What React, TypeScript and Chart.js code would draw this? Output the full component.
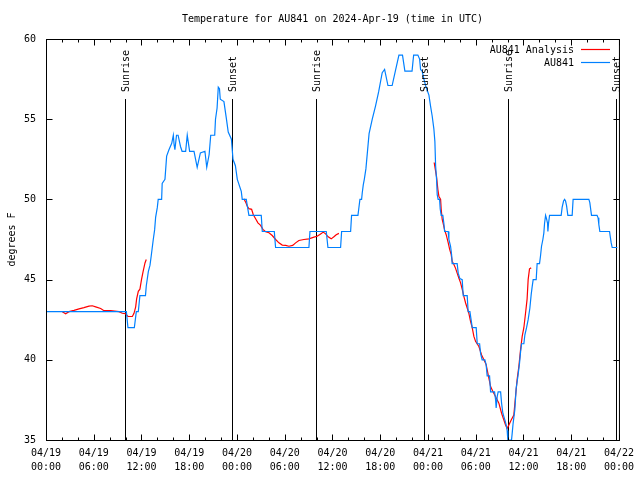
import React, { useEffect, useRef } from 'react';
import { Chart, registerables } from 'chart.js';

Chart.register(...registerables);

// Hours since 2024-04-19 00:00 UTC, temperature in degrees F
const observedTemps: [number, number][] = [
  [0, 43], [10.1, 43], [10.3, 42], [11.1, 42], [11.35, 43], [11.6, 43], [11.8, 44], [12.5, 44],
  [12.6, 44.6], [12.86, 45.5], [13.07, 45.9], [13.23, 46.5], [13.48, 47.5], [13.65, 48.1], [13.78, 48.9],
  [13.99, 49.5], [14.1, 50], [14.53, 50], [14.6, 51], [14.95, 51.25], [15.16, 52.7], [15.45, 53.1],
  [15.8, 53.5], [16.0, 54], [16.1, 53.4], [16.2, 53.1], [16.4, 54], [16.6, 54], [16.9, 53.3], [17.1, 53],
  [17.55, 53], [17.75, 54], [18.05, 53], [18.6, 53], [19.0, 52], [19.4, 52.9], [19.97, 53], [20.2, 52],
  [20.5, 52.8], [20.7, 54], [21.2, 54], [21.3, 55], [21.5, 55.7], [21.65, 57], [21.8, 56.9], [21.9, 56.25],
  [22.36, 56.1], [22.65, 55.1], [22.9, 54.2], [23.3, 53.75], [23.5, 52.5], [23.8, 52.1], [24.04, 51.25],
  [24.54, 50.5], [24.66, 50], [25.17, 50], [25.3, 49.6], [25.5, 49], [27.05, 49], [27.18, 48], [28.69, 48],
  [28.85, 47], [33.04, 47], [33.17, 48], [35.22, 48], [35.43, 47], [37.02, 47], [37.15, 48], [38.28, 48],
  [38.4, 49], [39.2, 49], [39.3, 49.4], [39.45, 50], [39.66, 50], [39.74, 50.4], [39.87, 50.9], [40.0, 51.25],
  [40.2, 51.9], [40.6, 54.1], [41.0, 55], [41.4, 55.8], [41.8, 56.7], [42.25, 57.9], [42.55, 58.1],
  [42.97, 57.1], [43.5, 57.1], [43.9, 58], [44.35, 59], [44.8, 59], [45.1, 58], [46.0, 58], [46.2, 59],
  [46.73, 59], [46.95, 58.75], [47.07, 58.1], [47.27, 58], [47.49, 57.5], [47.7, 57.1], [47.9, 56.8],
  [48.12, 56.5], [48.33, 55.8], [48.53, 55.2], [48.74, 54.4], [48.87, 53.6], [48.96, 52.1], [49.08, 51.25],
  [49.16, 50.3], [49.28, 50], [49.46, 50], [49.54, 49.4], [49.66, 49], [49.87, 49], [50.0, 48.5], [50.09, 48],
  [50.54, 48], [50.63, 47.5], [50.84, 47.08], [50.97, 46.56], [51.04, 46], [51.67, 46], [51.8, 45.4],
  [52.01, 45.06], [52.3, 45], [52.43, 44], [52.93, 44], [53.05, 43], [53.27, 43], [53.48, 42.3], [53.56, 42],
  [54.06, 42], [54.19, 41], [54.49, 41], [54.61, 40.4], [54.81, 40], [55.15, 40], [55.31, 39.7], [55.44, 39],
  [55.74, 39], [55.87, 38], [56.37, 38], [56.5, 37.5], [56.57, 37], [56.7, 37.7], [56.82, 38], [57.13, 38],
  [57.25, 37.3], [57.41, 36.67], [57.66, 36.25], [57.83, 35.94], [57.95, 35.6], [58.04, 35], [58.5, 35],
  [58.58, 35.4], [58.7, 36.04], [58.92, 36.9], [59.08, 38.2], [59.3, 38.96], [59.51, 39.8], [59.64, 40.5],
  [59.76, 41], [60.05, 41], [60.18, 41.56], [60.39, 42], [60.59, 42.5], [60.8, 43.2], [60.97, 44.06],
  [61.1, 44.58], [61.22, 45], [61.6, 45], [61.72, 46], [62.02, 46], [62.15, 46.5], [62.27, 47.08],
  [62.44, 47.5], [62.56, 47.9], [62.65, 48.5], [62.78, 49], [62.9, 48.8], [63.03, 48.5], [63.07, 48],
  [63.15, 48.5], [63.28, 49], [64.74, 49], [64.86, 49.5], [65.04, 49.9], [65.17, 50], [65.29, 49.9],
  [65.42, 49.6], [65.58, 49], [66.12, 49], [66.24, 50], [68.22, 50], [68.34, 49.8], [68.55, 49], [69.25, 49],
  [69.38, 48.85], [69.47, 48.44], [69.6, 48], [70.82, 48], [70.9, 47.7], [71.02, 47.3], [71.15, 47], [71.8, 47],
];

const analysisMorning19: [number, number][] = [
  [2.05, 43.0], [2.47, 42.87], [2.89, 43.0], [3.52, 43.08], [4.15, 43.17], [4.77, 43.25], [5.4, 43.35],
  [5.82, 43.37], [6.24, 43.3], [6.87, 43.2], [7.29, 43.06], [8.12, 43.06], [9.17, 43.0], [9.59, 42.9],
  [10.0, 42.87], [10.3, 42.7], [10.85, 42.7], [11.06, 42.9], [11.27, 43.3], [11.39, 43.8], [11.6, 44.27],
  [11.8, 44.4], [12.0, 45.0], [12.2, 45.5], [12.44, 46.04], [12.6, 46.25],
];

const analysisNight20: [number, number][] = [
  [24.87, 50.04], [25.09, 49.83], [25.29, 49.58], [25.5, 49.42], [25.84, 49.38], [26.04, 49.06],
  [26.34, 48.79], [26.63, 48.54], [26.97, 48.38], [27.26, 48.13], [27.6, 47.98], [28.02, 47.92],
  [28.43, 47.75], [28.86, 47.5], [29.27, 47.29], [29.69, 47.15], [30.11, 47.13], [30.53, 47.08],
  [31.0, 47.13], [31.37, 47.29], [31.78, 47.44], [32.41, 47.5], [33.04, 47.54], [33.67, 47.65],
  [34.08, 47.7], [34.51, 47.85], [34.84, 47.96], [35.14, 47.85], [35.46, 47.67], [35.84, 47.54],
  [36.18, 47.67], [36.47, 47.8], [36.81, 47.88],
];

const analysisNight21: [number, number][] = [
  [48.78, 52.3], [49.08, 51.4], [49.25, 50.6], [49.37, 50.2], [49.59, 50.0], [49.66, 49.4], [49.79, 48.75],
  [49.91, 48.5], [50.09, 48.1], [50.29, 47.8], [50.54, 47.3], [50.72, 46.9], [50.92, 46.56], [51.04, 46.15],
  [51.26, 45.94], [51.47, 45.7], [51.67, 45.4], [51.88, 45.1], [52.1, 44.8], [52.3, 44.4], [52.51, 43.96],
  [52.73, 43.54], [52.93, 43.23], [53.14, 42.9], [53.35, 42.4], [53.56, 42.0], [53.77, 41.46], [53.98, 41.15],
  [54.4, 40.83], [54.74, 40.3], [55.03, 40.0], [55.31, 39.7], [55.57, 39.06], [55.87, 38.33], [56.16, 38.02],
  [56.5, 37.7], [56.91, 37.3], [57.25, 36.67], [57.54, 36.25], [57.75, 35.94], [57.95, 35.73], [58.17, 35.94],
  [58.46, 36.25], [58.79, 36.56], [59.0, 37.7], [59.2, 38.75], [59.42, 39.58], [59.63, 40.6], [59.84, 41.46],
  [60.05, 42.0], [60.26, 42.9], [60.46, 43.8], [60.59, 45.0], [60.76, 45.67], [60.97, 45.73],
];

const sunTimes = [9.96, 23.4, 33.96, 47.53, 58.08, 71.65];
const sunLabels = ['Sunrise', 'Sunset', 'Sunrise', 'Sunset', 'Sunrise', 'Sunset'];

const xTickHours = [0, 6, 12, 18, 24, 30, 36, 42, 48, 54, 60, 66, 72];
const xTickDates = ['04/19', '04/19', '04/19', '04/19', '04/20', '04/20', '04/20', '04/20', '04/21', '04/21', '04/21', '04/21', '04/22'];
const xTickTimes = ['00:00', '06:00', '12:00', '18:00', '00:00', '06:00', '12:00', '18:00', '00:00', '06:00', '12:00', '18:00', '00:00'];
const yTickValues = [35, 40, 45, 50, 55, 60];

const TITLE = 'Temperature for AU841 on 2024-Apr-19 (time in UTC)';
const Y_TITLE = 'degrees F';
const OBS_LABEL = 'AU841';
const ANALYSIS_LABEL = 'AU841 Analysis';

const BLUE = 'rgb(0,128,255)';
const RED = 'rgb(255,0,0)';
const FONT = '"DejaVu Sans Mono", "Liberation Mono", monospace';

const toPoints = (arr: [number, number][]) => arr.map(([x, y]) => ({ x, y }));

const framePlugin = {
  id: 'gnuplotFrame',
  beforeDatasetsDraw(chart: any) {
    const { ctx, chartArea: a, scales } = chart;
    const xs = scales.x;
    ctx.save();
    ctx.strokeStyle = '#000';
    ctx.lineWidth = 1;
    sunTimes.forEach((t) => {
      const px = Math.round(xs.getPixelForValue(t)) + 0.5;
      ctx.beginPath();
      ctx.moveTo(px, a.top + 60);
      ctx.lineTo(px, a.bottom);
      ctx.stroke();
    });
    ctx.restore();
  },
  afterDraw(chart: any) {
    const { ctx, chartArea: a, scales } = chart;
    const xs = scales.x;
    const ys = scales.y;
    ctx.save();
    ctx.strokeStyle = '#000';
    ctx.lineWidth = 1;
    // frame
    ctx.strokeRect(a.left + 0.5, a.top + 0.5, a.right - a.left, a.bottom - a.top);
    // x ticks (major every 6h, minor every 2h), mirrored on top
    ctx.beginPath();
    for (let h = 0; h <= 72; h += 2) {
      const len = h % 6 === 0 ? 6 : 3;
      const px = Math.round(xs.getPixelForValue(h)) + 0.5;
      ctx.moveTo(px, a.bottom + 0.5);
      ctx.lineTo(px, a.bottom + 0.5 - len);
      ctx.moveTo(px, a.top + 0.5);
      ctx.lineTo(px, a.top + 0.5 + len);
    }
    yTickValues.forEach((v) => {
      const py = Math.round(ys.getPixelForValue(v)) + 0.5;
      ctx.moveTo(a.left + 0.5, py);
      ctx.lineTo(a.left + 0.5 + 6, py);
      ctx.moveTo(a.right + 0.5, py);
      ctx.lineTo(a.right + 0.5 - 6, py);
    });
    ctx.stroke();

    ctx.fillStyle = '#000';
    ctx.font = `10px ${FONT}`;
    // title
    ctx.textAlign = 'center';
    ctx.textBaseline = 'middle';
    ctx.fillText(TITLE, (a.left + a.right) / 2, 19);

    // y axis title
    ctx.save();
    ctx.translate(12, (a.top + a.bottom) / 2);
    ctx.rotate(-Math.PI / 2);
    ctx.textAlign = 'center';
    ctx.textBaseline = 'middle';
    ctx.fillText(Y_TITLE, 0, 0);
    ctx.restore();

    // sun labels
    sunTimes.forEach((t, i) => {
      const px = Math.round(xs.getPixelForValue(t)) + 1;
      ctx.save();
      ctx.translate(px, a.top + 53);
      ctx.rotate(-Math.PI / 2);
      ctx.textAlign = 'left';
      ctx.textBaseline = 'middle';
      ctx.fillText(sunLabels[i], 0, 0);
      ctx.restore();
    });

    // legend
    const entries = [
      { label: ANALYSIS_LABEL, color: RED, y: 49.5 },
      { label: OBS_LABEL, color: BLUE, y: 62.5 },
    ];
    entries.forEach((e) => {
      ctx.fillStyle = '#000';
      ctx.textAlign = 'right';
      ctx.textBaseline = 'middle';
      ctx.fillText(e.label, 574, e.y + 0.5);
      ctx.strokeStyle = e.color;
      ctx.lineWidth = 1.2;
      ctx.beginPath();
      ctx.moveTo(581, e.y);
      ctx.lineTo(610, e.y);
      ctx.stroke();
    });
    ctx.restore();
  },
};

export default function App() {
  const ref = useRef<HTMLCanvasElement>(null);

  useEffect(() => {
    const canvas = ref.current;
    if (!canvas) return;
    document.body.style.margin = '0';
    const analysisData: any[] = [
      ...toPoints(analysisMorning19),
      { x: 18, y: null },
      ...toPoints(analysisNight20),
      { x: 42, y: null },
      ...toPoints(analysisNight21),
    ];
    const chart = new Chart(canvas, {
      type: 'line',
      data: {
        datasets: [
          {
            label: OBS_LABEL,
            data: toPoints(observedTemps),
            borderColor: BLUE,
            borderWidth: 1.2,
            pointRadius: 0,
            tension: 0,
            fill: false,
          },
          {
            label: ANALYSIS_LABEL,
            data: analysisData,
            borderColor: RED,
            borderWidth: 1.2,
            pointRadius: 0,
            tension: 0,
            fill: false,
            spanGaps: false,
          },
        ],
      },
      options: {
        animation: false,
        responsive: false,
        devicePixelRatio: 1,
        parsing: true,
        layout: { padding: { top: 39, right: 19, left: 0, bottom: 0 } },
        plugins: {
          legend: { display: false },
          tooltip: { enabled: false },
          title: { display: false },
        },
        scales: {
          x: {
            type: 'linear',
            min: 0,
            max: 72,
            afterBuildTicks: (s: any) => {
              s.ticks = xTickHours.map((v) => ({ value: v }));
            },
            afterFit: (s: any) => {
              s.height = 40;
            },
            grid: { display: false, drawTicks: false },
            border: { display: false },
            ticks: {
              autoSkip: false,
              maxRotation: 0,
              minRotation: 0,
              padding: 6,
              color: '#000',
              font: { family: FONT, size: 10, lineHeight: 1.4 },
              callback: (_v: any, i: number) => [xTickDates[i], xTickTimes[i]],
            },
          },
          y: {
            type: 'linear',
            min: 35,
            max: 60,
            afterBuildTicks: (s: any) => {
              s.ticks = yTickValues.map((v) => ({ value: v }));
            },
            afterFit: (s: any) => {
              s.width = 46;
            },
            grid: { display: false, drawTicks: false },
            border: { display: false },
            ticks: {
              padding: 10,
              color: '#000',
              font: { family: FONT, size: 10 },
              callback: (v: any) => String(v),
            },
          },
        },
      },
      plugins: [framePlugin],
    } as any);
    return () => chart.destroy();
  }, []);

  return (
    <div style={{ position: 'fixed', left: 0, top: 0, width: 640, height: 480, background: '#fff' }}>
      <canvas ref={ref} width={640} height={480} style={{ display: 'block' }} />
    </div>
  );
}
